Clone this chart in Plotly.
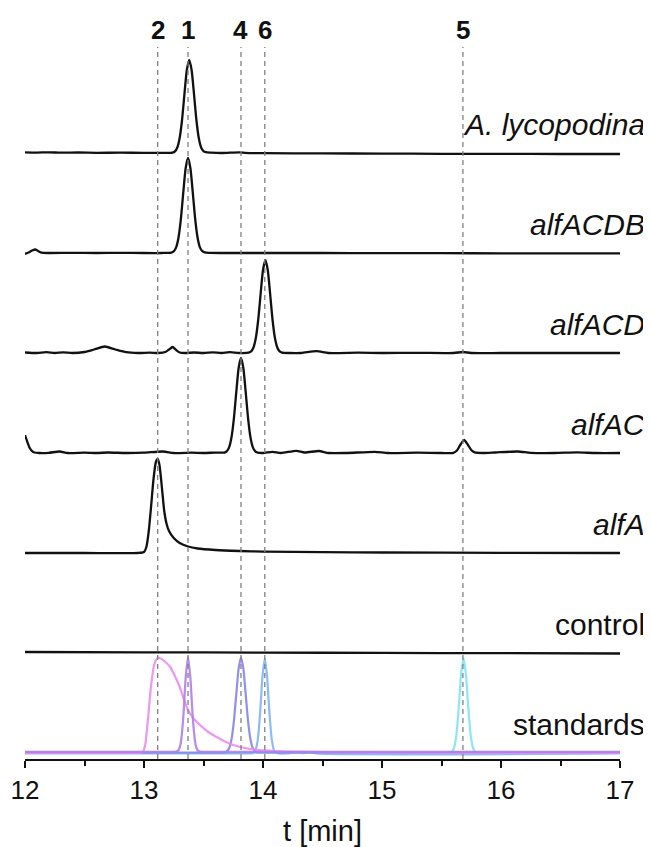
import plotly.graph_objects as go

# ---------------- data ----------------
trace_names = ["<i>A. lycopodina</i>", "<i>alfACDB</i>", "<i>alfACD</i>", "<i>alfAC</i>",
               "<i>alfA</i>", "control", "standards"]
trace_offsets = [6, 5, 4, 3, 2, 1, 0]

lyc_t = [12.0, 12.1, 12.2, 12.3, 12.45, 12.6, 12.8, 13.0, 13.15, 13.24, 13.26, 13.28, 13.30,
         13.32, 13.34, 13.36, 13.38, 13.40, 13.42, 13.44, 13.46, 13.48, 13.50, 13.52, 13.56,
         13.65, 13.8, 13.85, 14.0, 14.5, 15.0, 15.5, 16.0, 16.5, 17.0]
lyc_v = [0.006, 0.004, 0.007, 0.003, 0.005, 0.002, 0.003, 0.002, 0.001, 0.004, 0.016, 0.055,
         0.152, 0.335, 0.591, 0.830, 0.930, 0.830, 0.591, 0.335, 0.152, 0.055, 0.018, 0.008,
         0.004, 0.0, 0.006, 0.002, -0.002, -0.004, -0.006, -0.008, -0.009, -0.01, -0.01]

acdb_t = [12.0, 12.03, 12.06, 12.085, 12.11, 12.14, 12.2, 12.4, 12.6, 12.8, 13.0, 13.15, 13.23,
          13.25, 13.27, 13.29, 13.31, 13.33, 13.35, 13.37, 13.39, 13.41, 13.43, 13.45, 13.47,
          13.49, 13.51, 13.55, 13.7, 14.0, 14.5, 15.0, 15.5, 16.0, 16.5, 17.0]
acdb_v = [-0.008, 0.005, 0.025, 0.035, 0.02, 0.003, 0.0, 0.002, 0.0, 0.002, 0.0, 0.0, 0.004,
          0.016, 0.056, 0.155, 0.342, 0.603, 0.848, 0.950, 0.848, 0.603, 0.342, 0.155, 0.056,
          0.018, 0.006, 0.002, 0.0, 0.0, 0.0, -0.002, -0.002, -0.003, -0.003, -0.003]

acd_t = [12.0, 12.1, 12.18, 12.25, 12.32, 12.4, 12.5, 12.58, 12.67, 12.76, 12.85, 12.95, 13.05,
         13.12, 13.18, 13.21, 13.24, 13.27, 13.3, 13.35, 13.42, 13.5, 13.58, 13.65, 13.72, 13.8,
         13.88, 13.90, 13.92, 13.94, 13.96, 13.98, 14.00, 14.02, 14.04, 14.06, 14.08, 14.10,
         14.12, 14.14, 14.16, 14.22, 14.32, 14.45, 14.55, 14.8, 15.0, 15.3, 15.6, 15.68, 15.75,
         16.0, 16.5, 17.0]
acd_v = [0.005, 0.0, 0.008, 0.0, 0.006, 0.0, 0.01, 0.035, 0.065, 0.035, 0.008, 0.0, 0.003,
         0.0, 0.01, 0.035, 0.06, 0.03, 0.005, 0.0, 0.005, 0.0, 0.006, 0.0, 0.008, 0.0,
         0.004, 0.016, 0.055, 0.152, 0.335, 0.591, 0.830, 0.930, 0.830, 0.591, 0.335, 0.152,
         0.055, 0.016, 0.004, 0.0, 0.0, 0.018, 0.0, 0.003, 0.0, 0.002, 0.0, 0.01, 0.0,
         0.0, 0.0, 0.0]

ac_t = [12.0, 12.02, 12.04, 12.06, 12.08, 12.12, 12.2, 12.29, 12.36, 12.5, 12.6, 12.7, 12.85,
        13.0, 13.16, 13.25, 13.4, 13.5, 13.6, 13.675, 13.695, 13.715, 13.735, 13.755, 13.775,
        13.795, 13.815, 13.835, 13.855, 13.875, 13.895, 13.915, 13.935, 13.955, 14.0, 14.08,
        14.15, 14.28, 14.35, 14.47, 14.55, 14.7, 14.94, 15.05, 15.3, 15.5, 15.6, 15.63, 15.66,
        15.69, 15.72, 15.75, 15.78, 15.85, 15.95, 16.14, 16.25, 16.45, 16.64, 16.8, 17.0]
ac_v = [0.18, 0.11, 0.05, 0.018, 0.005, 0.0, 0.002, 0.015, 0.0, 0.004, 0.0, 0.005, 0.0,
        0.003, 0.015, 0.0, 0.003, 0.0, 0.004, 0.004, 0.016, 0.056, 0.155, 0.342, 0.603,
        0.848, 0.950, 0.848, 0.603, 0.342, 0.155, 0.056, 0.016, 0.004, 0.0, 0.012,
        0.0, 0.022, 0.005, 0.02, 0.0, 0.0, 0.012, 0.0, 0.003, 0.0, 0.002, 0.025, 0.085,
        0.13, 0.085, 0.03, 0.006, 0.0, 0.005, 0.015, 0.002, 0.0, 0.006, 0.0, 0.0]

a_t = [12.0, 12.5, 12.95, 13.0, 13.02, 13.04, 13.06, 13.08, 13.10, 13.115, 13.13, 13.15, 13.17,
       13.19, 13.21, 13.25, 13.3, 13.37, 13.45, 13.6, 13.8, 14.0, 14.5, 15.0, 16.0, 17.0]
a_v = [0.0, 0.0, 0.0, 0.01, 0.06, 0.22, 0.47, 0.74, 0.91, 0.94, 0.88, 0.66, 0.42,
       0.29, 0.22, 0.15, 0.10, 0.065, 0.045, 0.03, 0.02, 0.014, 0.008, 0.005, 0.002, 0.0]

ctrl_t = [12.0, 13.0, 14.0, 15.0, 16.0, 17.0]
ctrl_v = [0.01, 0.007, 0.004, 0.001, -0.002, -0.005]

# standards (one curve per compound)
std_labels = ["5", "6", "4", "2", "1"]
std_colors = ["#80E4F4", "#80B4F4", "#8585E8", "#EA8CF2", "#B07EEA"]

s2_t = [12.0, 12.9, 12.97, 12.99, 13.01, 13.035, 13.06, 13.085, 13.11, 13.13, 13.17, 13.22,
        13.26, 13.30, 13.335, 13.37, 13.42, 13.47, 13.54, 13.61, 13.68, 13.75, 13.82, 13.89,
        14.0, 14.2, 14.5, 15.0, 16.0, 17.0]
s2_v = [0.0, 0.0, 0.004, 0.013, 0.08, 0.36, 0.68, 0.88, 0.945, 0.95, 0.92, 0.86,
        0.77, 0.66, 0.54, 0.43, 0.34, 0.28, 0.21, 0.16, 0.115, 0.08, 0.057, 0.04,
        0.027, 0.015, 0.009, 0.005, 0.002, 0.0]

s1_t = [12.0, 13.2, 13.27, 13.29, 13.31, 13.33, 13.35, 13.37, 13.39, 13.41, 13.43, 13.45,
        13.47, 13.54, 17.0]
s1_v = [0.0, 0.0, 0.002, 0.016, 0.096, 0.342, 0.736, 0.95, 0.736, 0.342, 0.096, 0.016,
        0.002, 0.0, 0.0]

s4_t = [12.0, 13.6, 13.675, 13.695, 13.715, 13.735, 13.755, 13.775, 13.795, 13.815, 13.835,
        13.855, 13.875, 13.895, 13.915, 13.935, 13.955, 14.05, 17.0]
s4_v = [0.0, 0.0, 0.002, 0.011, 0.042, 0.129, 0.308, 0.576, 0.838, 0.95, 0.838,
        0.576, 0.308, 0.129, 0.042, 0.011, 0.002, 0.0, 0.0]

s6_t = [12.0, 13.85, 13.915, 13.935, 13.955, 13.975, 13.995, 14.015, 14.035, 14.055, 14.075,
        14.095, 14.115, 14.2, 14.28, 14.33, 14.39, 14.45, 17.0]
s6_v = [0.0, 0.0, 0.004, 0.027, 0.129, 0.39, 0.761, 0.95, 0.761, 0.39, 0.129,
        0.027, 0.004, 0.0, 0.012, 0.004, 0.015, 0.0, 0.0]

s5_t = [12.0, 15.5, 15.565, 15.585, 15.605, 15.625, 15.645, 15.665, 15.685, 15.705, 15.725,
        15.745, 15.765, 15.785, 15.805, 15.9, 17.0]
s5_v = [0.0, 0.0, 0.001, 0.01, 0.05, 0.182, 0.456, 0.79, 0.95, 0.79, 0.456,
        0.182, 0.05, 0.01, 0.001, 0.0, 0.0]

marker_times = [13.115, 13.37, 13.815, 14.015, 15.68]
marker_labels = ["2", "1", "4", "6", "5"]

x_ticks = [12, 13, 14, 15, 16, 17]
x_title = "t [min]"

# ---------------- figure ----------------
FONT = "Arial, 'Liberation Sans', sans-serif"
fig = go.Figure()

black_series = [(lyc_t, lyc_v), (acdb_t, acdb_v), (acd_t, acd_v), (ac_t, ac_v),
                (a_t, a_v), (ctrl_t, ctrl_v)]
std_series = [(s5_t, s5_v), (s6_t, s6_v), (s4_t, s4_v), (s2_t, s2_v), (s1_t, s1_v)]
std_base = [0.0, -0.005, 0.005, 0.0, 0.012]

for (t, v), col, b in zip(std_series, std_colors, std_base):
    fig.add_trace(go.Scatter(x=t, y=[val + b for val in v], mode="lines",
                             line=dict(color=col, width=2.2, shape="spline", smoothing=0.6),
                             opacity=0.9, hoverinfo="skip", showlegend=False))

for (t, v), off in zip(black_series, trace_offsets[:6]):
    fig.add_trace(go.Scatter(x=t, y=[val + off for val in v], mode="lines",
                             line=dict(color="#111111", width=2.3, shape="spline", smoothing=0.6),
                             hoverinfo="skip", showlegend=False))

for xt in marker_times:
    fig.add_shape(type="line", x0=xt, x1=xt, y0=-0.06, y1=7.06, xref="x", yref="y",
                  line=dict(color="#808080", width=1.3, dash="5px,4px"), layer="above")

for xt, lab in zip(marker_times, marker_labels):
    fig.add_annotation(x=xt, y=7.23, xref="x", yref="y", text="<b>" + lab + "</b>",
                       showarrow=False, font=dict(family=FONT, size=26, color="#111"),
                       xanchor="center", yanchor="middle")

for name, off in zip(trace_names, trace_offsets):
    fig.add_annotation(x=1.0454, y=off + 0.29, xref="paper", yref="y", text=name,
                       showarrow=False, font=dict(family=FONT, size=30, color="#111"),
                       xanchor="right", yanchor="middle")

# page body has an 8px offset: figure is 643x839, placed at (8, 8)
fig.update_layout(
    width=643, height=839,
    margin=dict(l=17, r=31, t=0, b=88),
    paper_bgcolor="white", plot_bgcolor="white",
    font=dict(family=FONT, color="#111"),
    xaxis=dict(range=[12, 17], tickvals=x_ticks, ticks="outside", ticklen=7, tickwidth=2,
               tickcolor="#111", showline=True, linecolor="#111", linewidth=2,
               showgrid=False, zeroline=False, tickfont=dict(size=26, family=FONT),
               minor=dict(dtick=0.5, tick0=12, ticks="outside", ticklen=5, tickwidth=2,
                          tickcolor="#111", showgrid=False),
               title=dict(text=x_title, font=dict(size=29, family=FONT), standoff=24),
               automargin=False),
    yaxis=dict(range=[-0.06, 7.45], visible=False, showgrid=False, zeroline=False,
               fixedrange=True),
)

fig.write_html("out.html")
